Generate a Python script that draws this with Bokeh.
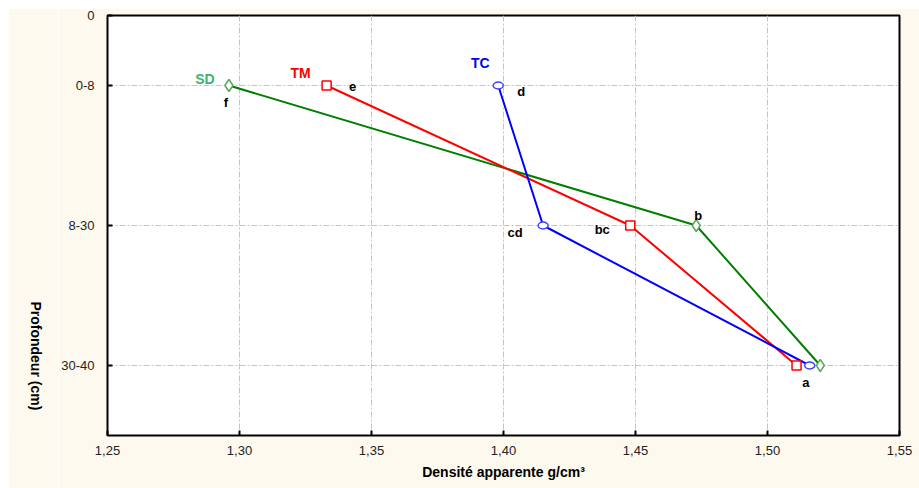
import math
from bokeh.plotting import figure
from bokeh.models import FixedTicker, ColumnDataSource, Spacer
from bokeh.layouts import column, row
from bokeh.core.properties import value
from bokeh.embed import file_html
from bokeh.resources import INLINE

# ---------------- data ----------------
depth_labels = ["0-8", "8-30", "30-40"]
depth_pos = [0.5, 1.5, 2.5]
y_ticks = [0, 0.5, 1.5, 2.5]
y_tick_labels = ["0", "0-8", "8-30", "30-40"]
x_ticks = [1.25, 1.30, 1.35, 1.40, 1.45, 1.50, 1.55]
x_tick_labels = ["1,25", "1,30", "1,35", "1,40", "1,45", "1,50", "1,55"]

sd = [1.296, 1.473, 1.520]
tm = [1.333, 1.448, 1.511]
tc = [1.398, 1.415, 1.516]

letters_sd = ["f", "b", ""]
letters_tm = ["e", "bc", ""]
letters_tc = ["d", "cd", "a"]

FONT = "Liberation Sans"
CREAM = "#fdf9ee"
TOP = 8          # white strip above
LEFT = 8         # white strip left
FIG_H = 488 - TOP
SIDE_W = 50      # side strip holding the vertical axis title

# ---- side strip with the y axis title (reads top to bottom) ----
side = figure(width=SIDE_W, height=FIG_H, x_range=(0, SIDE_W), y_range=(FIG_H, 0),
              output_backend="svg", toolbar_location=None,
              min_border=0, background_fill_color=CREAM, border_fill_color=CREAM)
side.axis.visible = False
side.grid.visible = False
side.outline_line_color = None
side.text(x=[27], y=[397 - TOP], text=["Profondeur (cm)"], angle=-math.pi / 2,
          text_align="center", text_baseline="middle", text_font=value(FONT),
          text_font_size="14px", text_font_style="bold", text_color="black")

# ---- main plot ----
p = figure(width=919 - LEFT - SIDE_W, height=FIG_H, x_range=(1.25, 1.55), y_range=(3, 0),
           output_backend="svg", toolbar_location=None,
           min_border_left=107 - LEFT - SIDE_W, min_border_top=15 - TOP,
           min_border_right=20, min_border_bottom=53,
           background_fill_color="white", border_fill_color=CREAM)

p.outline_line_color = "black"
p.outline_line_width = 2

# grids
p.xgrid.ticker = FixedTicker(ticks=x_ticks[1:-1])
p.ygrid.ticker = FixedTicker(ticks=y_ticks[1:])
for g in (p.xgrid, p.ygrid):
    g.grid_line_color = "#c4c4c4"
    g.grid_line_dash = "6 2 2 2"
    g.grid_line_width = 1

# axes
p.xaxis.ticker = FixedTicker(ticks=x_ticks)
p.xaxis.major_label_overrides = {t: l for t, l in zip(x_ticks, x_tick_labels)}
p.yaxis.ticker = FixedTicker(ticks=y_ticks)
p.yaxis.major_label_overrides = {t: l for t, l in zip(y_ticks, y_tick_labels)}
for ax in (p.xaxis, p.yaxis):
    ax.axis_line_color = None
    ax.major_tick_in = 5
    ax.major_tick_out = 0
    ax.major_tick_line_color = "black"
    ax.major_tick_line_width = 2
    ax.minor_tick_line_color = None
    ax.major_label_text_font = FONT
    ax.major_label_text_font_size = "13px"
    ax.major_label_text_color = "#222222"
p.xaxis.major_label_standoff = 10
p.yaxis.major_label_standoff = 13

p.xaxis.axis_label = "Densité apparente g/cm³"
p.xaxis.axis_label_text_font = FONT
p.xaxis.axis_label_text_font_size = "14px"
p.xaxis.axis_label_text_font_style = "bold"
p.xaxis.axis_label_text_color = "black"
p.xaxis.axis_label_standoff = 6

# series
p.line(sd, depth_pos, line_color="#008000", line_width=2)
p.line(tm, depth_pos, line_color="#ff0000", line_width=2)
p.line(tc, depth_pos, line_color="#0000ff", line_width=2)

p.scatter(sd, depth_pos, marker="diamond", size=12, fill_color="white",
          line_color="#5aa85a", line_width=1.5)
p.scatter(tm, depth_pos, marker="square", size=9, fill_color="white",
          line_color="#ff0000", line_width=1.5)
p.ellipse(tc, depth_pos, width=10, height=7, width_units="screen",
          height_units="screen", fill_color="white", line_color="#4040ff",
          line_width=1.5)

# series names
names_src = ColumnDataSource(dict(
    x=[sd[0], tm[0], tc[0]], y=[depth_pos[0]] * 3,
    text=["SD", "TM", "TC"],
    color=["#3cb371", "#ff0000", "#0000ff"],
    dx=[-24, -26, -18], dy=[-7, -13, -23],
))
p.text("x", "y", text="text", source=names_src, text_color="color",
       x_offset="dx", y_offset="dy", text_align="center",
       text_baseline="middle", text_font=value(FONT),
       text_font_size="14px", text_font_style="bold")

# significance letters
lx, ly, lt, ldx, ldy = [], [], [], [], []
offsets = {
    ("SD", 0): (-3, 17), ("SD", 1): (2, -10),
    ("TM", 0): (26, 1), ("TM", 1): (-28, 4),
    ("TC", 0): (23, 6), ("TC", 1): (-28, 7), ("TC", 2): (-4, 17),
}
for name, vals, lets in (("SD", sd, letters_sd), ("TM", tm, letters_tm),
                         ("TC", tc, letters_tc)):
    for i, (v, l) in enumerate(zip(vals, lets)):
        if l:
            lx.append(v)
            ly.append(depth_pos[i])
            lt.append(l)
            dx, dy = offsets[(name, i)]
            ldx.append(dx)
            ldy.append(dy)
let_src = ColumnDataSource(dict(x=lx, y=ly, text=lt, dx=ldx, dy=ldy))
p.text("x", "y", text="text", source=let_src, text_color="black",
       x_offset="dx", y_offset="dy", text_align="center",
       text_baseline="middle", text_font=value(FONT),
       text_font_size="13px", text_font_style="bold")

layout = column(Spacer(height=TOP), row(Spacer(width=LEFT), side, p))
open("out.html", "w").write(file_html(layout, INLINE))
